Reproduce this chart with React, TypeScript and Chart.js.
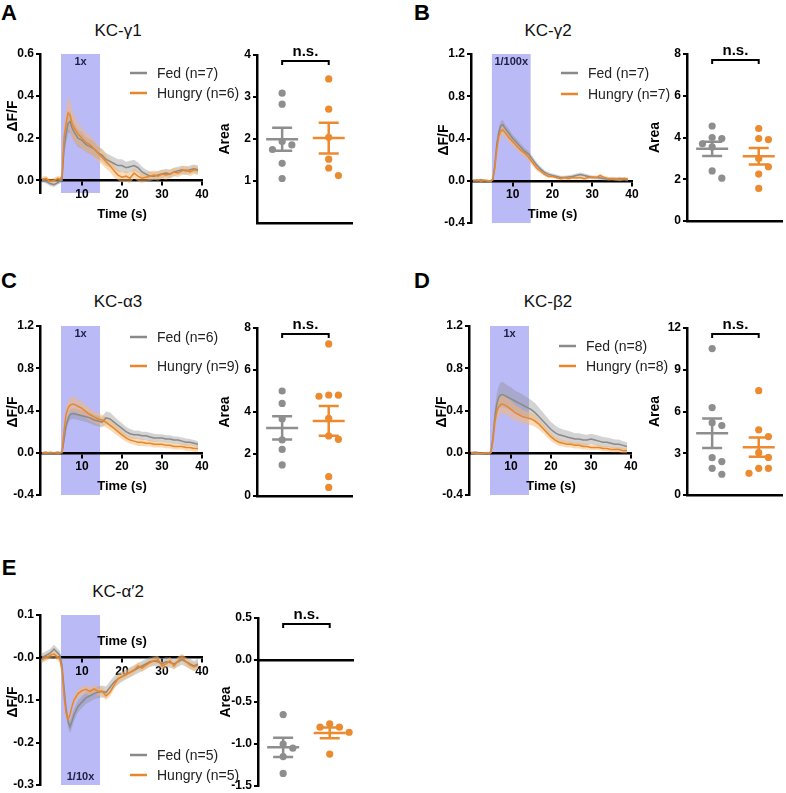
import React, { useEffect, useRef } from 'react';
import { Chart, registerables } from 'chart.js';
Chart.register(...registerables);

const FONT = '"Liberation Sans", Arial, Helvetica, sans-serif';
const GREY = '#8a8a8a';
const ORANGE = '#e8862c';
const GREY_BAND = 'rgba(140,140,140,0.38)';
const ORANGE_BAND = 'rgba(248,184,110,0.5)';
const STIM_FILL = '#babaf6';
const DOT_GREY = '#8e8e8e';
const DOT_ORANGE = '#ec8a30';

// ---------------- time course data ----------------
const TIME = [0, 1, 2, 3, 4, 4.5, 5, 5.5, 6, 6.5, 7, 7.5, 8, 9, 10, 11, 12, 13, 14, 15, 16, 17, 18, 19, 20, 21, 22, 23, 24, 25, 26, 27, 28, 29, 30, 31, 32, 33, 34, 35, 36, 37, 38, 39];
const STIM = [4.75, 14.5];
const X_TICKS = [10, 20, 30, 40];
const X_TICK_LABELS = ['10', '20', '30', '40'];
const SERIES_NAMES = ['Fed', 'Hungry'];

const A_FED = [0, -0.005, -0.015, -0.02, -0.01, -0.005, 0.0, 0.15, 0.22, 0.27, 0.28, 0.25, 0.23, 0.2, 0.19, 0.17, 0.16, 0.15, 0.13, 0.12, 0.1, 0.09, 0.08, 0.07, 0.07, 0.06, 0.065, 0.07, 0.06, 0.04, 0.03, 0.02, 0.02, 0.025, 0.03, 0.035, 0.03, 0.04, 0.045, 0.05, 0.045, 0.05, 0.055, 0.05];
const A_FED_SEM = [0.01, 0.01, 0.012, 0.012, 0.01, 0.01, 0.01, 0.035, 0.045, 0.05, 0.05, 0.045, 0.045, 0.04, 0.04, 0.035, 0.035, 0.035, 0.03, 0.03, 0.03, 0.03, 0.03, 0.03, 0.03, 0.028, 0.028, 0.028, 0.025, 0.025, 0.022, 0.022, 0.02, 0.02, 0.02, 0.02, 0.02, 0.02, 0.02, 0.02, 0.02, 0.02, 0.02, 0.02];
const A_HUN = [0.005, 0.01, -0.005, 0.0, 0.01, 0.005, 0.02, 0.2, 0.27, 0.32, 0.31, 0.27, 0.25, 0.22, 0.2, 0.18, 0.17, 0.15, 0.13, 0.11, 0.09, 0.07, 0.045, 0.025, 0.015, 0.02, 0.01, 0.035, 0.02, 0.01, 0.015, 0.02, 0.025, 0.02, 0.03, 0.025, 0.03, 0.04, 0.035, 0.045, 0.05, 0.04, 0.05, 0.045];
const A_HUN_SEM = [0.012, 0.012, 0.012, 0.012, 0.012, 0.012, 0.015, 0.05, 0.065, 0.075, 0.075, 0.07, 0.065, 0.055, 0.05, 0.045, 0.045, 0.04, 0.04, 0.035, 0.035, 0.03, 0.03, 0.025, 0.025, 0.025, 0.025, 0.025, 0.025, 0.022, 0.022, 0.022, 0.022, 0.022, 0.022, 0.022, 0.02, 0.02, 0.02, 0.02, 0.02, 0.02, 0.02, 0.02];

const B_FED = [0.005, -0.005, 0.01, 0.0, -0.005, 0.0, 0.01, 0.15, 0.35, 0.46, 0.52, 0.53, 0.5, 0.45, 0.4, 0.36, 0.32, 0.28, 0.25, 0.2, 0.15, 0.11, 0.08, 0.06, 0.05, 0.04, 0.03, 0.03, 0.035, 0.04, 0.05, 0.06, 0.05, 0.04, 0.03, 0.03, 0.025, 0.02, 0.015, 0.02, 0.015, 0.02, 0.015, 0.01];
const B_FED_SEM = [0.012, 0.012, 0.012, 0.012, 0.012, 0.012, 0.012, 0.03, 0.04, 0.045, 0.045, 0.045, 0.04, 0.04, 0.035, 0.035, 0.03, 0.03, 0.03, 0.03, 0.025, 0.025, 0.02, 0.02, 0.018, 0.018, 0.018, 0.018, 0.018, 0.018, 0.018, 0.018, 0.018, 0.018, 0.018, 0.018, 0.018, 0.018, 0.018, 0.018, 0.018, 0.018, 0.018, 0.018];
const B_HUN = [0.0, 0.01, -0.005, 0.005, 0.0, -0.005, 0.01, 0.12, 0.3, 0.42, 0.47, 0.48, 0.46, 0.41, 0.37, 0.33, 0.29, 0.26, 0.22, 0.17, 0.12, 0.09, 0.06, 0.04, 0.04, 0.03, 0.02, 0.03, 0.02, 0.03, 0.025, 0.03, 0.02, 0.03, 0.035, 0.03, 0.05, 0.03, 0.02, 0.02, 0.015, 0.01, 0.02, 0.015];
const B_HUN_SEM = [0.01, 0.01, 0.01, 0.01, 0.01, 0.01, 0.01, 0.03, 0.045, 0.05, 0.05, 0.05, 0.048, 0.045, 0.042, 0.04, 0.038, 0.035, 0.033, 0.03, 0.025, 0.02, 0.018, 0.015, 0.015, 0.015, 0.015, 0.015, 0.015, 0.015, 0.015, 0.015, 0.015, 0.015, 0.015, 0.015, 0.015, 0.015, 0.015, 0.015, 0.015, 0.015, 0.015, 0.015];

const C_FED = [0.0, 0.005, -0.005, 0.0, 0.005, 0.0, 0.0, 0.12, 0.25, 0.32, 0.36, 0.37, 0.37, 0.36, 0.35, 0.34, 0.33, 0.31, 0.3, 0.29, 0.33, 0.32, 0.29, 0.26, 0.23, 0.2, 0.18, 0.17, 0.17, 0.16, 0.16, 0.15, 0.14, 0.14, 0.14, 0.13, 0.13, 0.12, 0.12, 0.11, 0.1, 0.1, 0.09, 0.08];
const C_FED_SEM = [0.008, 0.008, 0.008, 0.008, 0.008, 0.008, 0.008, 0.03, 0.04, 0.045, 0.05, 0.05, 0.05, 0.05, 0.05, 0.05, 0.05, 0.05, 0.05, 0.05, 0.06, 0.06, 0.055, 0.05, 0.05, 0.045, 0.045, 0.04, 0.04, 0.04, 0.04, 0.04, 0.04, 0.035, 0.035, 0.035, 0.035, 0.035, 0.035, 0.035, 0.035, 0.03, 0.03, 0.03];
const C_HUN = [0.0, -0.005, 0.005, 0.0, -0.005, 0.0, 0.01, 0.2, 0.36, 0.42, 0.45, 0.46, 0.46, 0.44, 0.42, 0.39, 0.36, 0.34, 0.32, 0.31, 0.29, 0.26, 0.23, 0.2, 0.17, 0.14, 0.12, 0.11, 0.1, 0.1, 0.09, 0.09, 0.08, 0.08, 0.08, 0.07, 0.07, 0.06, 0.06, 0.06, 0.05, 0.05, 0.04, 0.04];
const C_HUN_SEM = [0.008, 0.008, 0.008, 0.008, 0.008, 0.008, 0.008, 0.05, 0.065, 0.07, 0.07, 0.07, 0.07, 0.065, 0.065, 0.06, 0.06, 0.055, 0.055, 0.05, 0.05, 0.045, 0.045, 0.04, 0.04, 0.035, 0.035, 0.035, 0.035, 0.035, 0.03, 0.03, 0.03, 0.03, 0.03, 0.03, 0.03, 0.03, 0.03, 0.03, 0.03, 0.03, 0.03, 0.03];

const D_FED = [0.0, 0.005, 0.0, -0.005, 0.0, 0.0, 0.005, 0.15, 0.35, 0.47, 0.53, 0.55, 0.55, 0.53, 0.51, 0.49, 0.47, 0.45, 0.43, 0.41, 0.38, 0.34, 0.3, 0.26, 0.22, 0.19, 0.17, 0.16, 0.15, 0.14, 0.13, 0.13, 0.12, 0.12, 0.13, 0.12, 0.11, 0.1, 0.1, 0.09, 0.08, 0.08, 0.07, 0.06];
const D_FED_SEM = [0.01, 0.01, 0.01, 0.01, 0.01, 0.01, 0.01, 0.06, 0.09, 0.1, 0.11, 0.12, 0.12, 0.11, 0.11, 0.1, 0.1, 0.1, 0.095, 0.09, 0.09, 0.085, 0.08, 0.075, 0.07, 0.07, 0.065, 0.06, 0.06, 0.06, 0.055, 0.055, 0.055, 0.05, 0.05, 0.05, 0.05, 0.05, 0.045, 0.045, 0.045, 0.045, 0.04, 0.04];
const D_HUN = [0.0, -0.005, -0.01, -0.005, 0.0, -0.005, 0.0, 0.12, 0.3, 0.4, 0.44, 0.46, 0.46, 0.44, 0.41, 0.38, 0.36, 0.34, 0.33, 0.32, 0.3, 0.27, 0.23, 0.19, 0.15, 0.12, 0.1, 0.09, 0.08, 0.08, 0.07, 0.07, 0.06, 0.06, 0.05, 0.05, 0.05, 0.04, 0.04, 0.03, 0.03, 0.03, 0.02, 0.02];
const D_HUN_SEM = [0.01, 0.01, 0.01, 0.01, 0.01, 0.01, 0.01, 0.05, 0.07, 0.08, 0.09, 0.09, 0.09, 0.085, 0.08, 0.075, 0.07, 0.065, 0.06, 0.06, 0.055, 0.05, 0.045, 0.04, 0.04, 0.035, 0.035, 0.03, 0.03, 0.03, 0.03, 0.03, 0.03, 0.03, 0.025, 0.025, 0.025, 0.025, 0.025, 0.025, 0.025, 0.025, 0.025, 0.025];

const E_FED = [0.0, 0.005, 0.01, 0.02, 0.01, 0.005, -0.02, -0.07, -0.12, -0.15, -0.163, -0.15, -0.135, -0.115, -0.105, -0.095, -0.09, -0.085, -0.082, -0.08, -0.082, -0.07, -0.058, -0.05, -0.045, -0.04, -0.035, -0.03, -0.025, -0.02, -0.015, -0.01, -0.008, -0.01, -0.015, -0.01, -0.012, -0.015, -0.01, -0.005, -0.01, -0.015, -0.02, -0.015];
const E_FED_SEM = [0.01, 0.01, 0.01, 0.01, 0.01, 0.01, 0.01, 0.012, 0.014, 0.015, 0.015, 0.015, 0.014, 0.014, 0.014, 0.014, 0.014, 0.014, 0.014, 0.014, 0.014, 0.014, 0.014, 0.014, 0.012, 0.012, 0.012, 0.012, 0.012, 0.012, 0.012, 0.012, 0.012, 0.012, 0.012, 0.012, 0.012, 0.012, 0.012, 0.012, 0.012, 0.012, 0.012, 0.012];
const E_HUN = [-0.005, 0.0, 0.005, 0.008, 0.0, -0.005, -0.03, -0.09, -0.13, -0.145, -0.135, -0.115, -0.1, -0.085, -0.078, -0.075, -0.08, -0.074, -0.08, -0.079, -0.09, -0.082, -0.065, -0.05, -0.045, -0.04, -0.035, -0.03, -0.02, -0.025, -0.018, -0.012, -0.008, -0.005, -0.02, -0.015, -0.008, -0.02, -0.008, 0.0, -0.01, -0.018, -0.022, -0.018];
const E_HUN_SEM = [0.008, 0.008, 0.008, 0.008, 0.008, 0.008, 0.008, 0.01, 0.01, 0.01, 0.01, 0.01, 0.01, 0.01, 0.01, 0.01, 0.01, 0.01, 0.01, 0.01, 0.01, 0.01, 0.01, 0.01, 0.009, 0.009, 0.009, 0.009, 0.009, 0.009, 0.009, 0.009, 0.009, 0.009, 0.009, 0.009, 0.009, 0.009, 0.009, 0.009, 0.009, 0.009, 0.009, 0.009];

const A_Y_TICKS = [0, 0.2, 0.4, 0.6];
const A_Y_LABELS = ['0.0', '0.2', '0.4', '0.6'];
const BCD_Y_TICKS = [-0.4, 0, 0.4, 0.8, 1.2];
const BCD_Y_LABELS = ['-0.4', '0.0', '0.4', '0.8', '1.2'];
const E_Y_TICKS = [-0.3, -0.2, -0.1, 0, 0.1];
const E_Y_LABELS = ['-0.3', '-0.2', '-0.1', '-0.0', '0.1'];

// ---------------- area data ----------------
const A_AREA_FED = [3.09, 2.83, 1.94, 1.86, 1.75, 1.42, 1.06];
const A_AREA_HUN = [3.43, 2.71, 2.04, 1.52, 1.31, 1.13];
const B_AREA_FED = [4.55, 4.0, 3.95, 3.7, 3.55, 2.4, 2.05];
const B_AREA_HUN = [4.43, 3.95, 3.9, 3.0, 2.6, 2.25, 1.56];
const C_AREA_FED = [5.0, 4.41, 3.67, 2.67, 2.22, 1.48];
const C_AREA_HUN = [7.24, 4.81, 4.75, 4.8, 3.7, 2.86, 2.7, 0.92, 0.41];
const D_AREA_FED = [10.52, 6.28, 5.2, 4.99, 2.68, 2.4, 1.92, 1.49];
const D_AREA_HUN = [7.5, 4.68, 4.2, 3.04, 2.7, 1.92, 1.92, 1.56];
const E_AREA_FED = [-0.65, -1.0, -1.05, -1.15, -1.35];
const E_AREA_HUN = [-0.76, -0.8, -0.8, -0.86, -1.12];

const A_AREA_TICKS = [1, 2, 3, 4];
const A_AREA_LABELS = ['1', '2', '3', '4'];
const BC_AREA_TICKS = [0, 2, 4, 6, 8];
const BC_AREA_LABELS = ['0', '2', '4', '6', '8'];
const D_AREA_TICKS = [0, 3, 6, 9, 12];
const D_AREA_LABELS = ['0', '3', '6', '9', '12'];
const E_AREA_TICKS = [-1.5, -1.0, -0.5, 0, 0.5];
const E_AREA_LABELS = ['-1.5', '-1.0', '-0.5', '0.0', '0.5'];

const LETTERS = ['A', 'B', 'C', 'D', 'E'];
const TITLES = ['KC-γ1', 'KC-γ2', 'KC-α3', 'KC-β2', 'KC-α′2'];

// ---------------- helpers ----------------
const mean = (v: number[]) => v.reduce((a, b) => a + b, 0) / v.length;
const sem = (v: number[]) => {
  const m = mean(v);
  const sd = Math.sqrt(v.reduce((a, b) => a + (b - m) * (b - m), 0) / (v.length - 1));
  return sd / Math.sqrt(v.length);
};

function swarm(values: number[], center: number, pyu: number, pxu: number) {
  const placed: { dx: number; py: number; v: number }[] = [];
  const order = values.slice().sort((a, b) => b - a);
  for (const v of order) {
    const py = v * pyu;
    for (const k of [0, 1, -1, 2, -2, 3, -3]) {
      const dx = k * 10;
      if (placed.every((p) => Math.hypot(p.dx - dx, p.py - py) >= 8.5)) {
        placed.push({ dx, py, v });
        break;
      }
    }
  }
  return placed.map((p) => ({ x: center + p.dx / pxu, y: p.v }));
}

const tickFont = { family: FONT, size: 12, weight: 'bold' as const };

type Area = { left: number; top: number; right: number; bottom: number };
type LineSpec = {
  area: Area; xMin: number; xMax: number; yMin: number; yMax: number;
  yTicks: number[]; yLabels: string[];
  fed: number[]; fedSem: number[]; hun: number[]; hunSem: number[];
  n: number[]; legendY: number[]; stimLabel: string; stimBottom: boolean;
  timeAbove: boolean; yTitleY: number;
};

function LinePanel({ s }: { s: LineSpec }) {
  const ref = useRef<HTMLCanvasElement>(null);
  const PL = 40, PT = 20, PR = 60, PB = 36;
  const w = s.area.right - s.area.left + PL + PR;
  const h = s.area.bottom - s.area.top + PT + PB;
  useEffect(() => {
    const xy = (ys: number[]) => TIME.map((t, i) => ({ x: t, y: ys[i] }));
    const band = (m: number[], e: number[], sg: number) => TIME.map((t, i) => ({ x: t, y: m[i] + sg * e[i] }));
    const labels = [`${SERIES_NAMES[0]} (n=${s.n[0]})`, `${SERIES_NAMES[1]} (n=${s.n[1]})`];
    const decor = {
      id: 'decor',
      beforeDraw(chart: any) {
        const { ctx, chartArea: a, scales: { x } } = chart;
        const x0 = x.getPixelForValue(STIM[0]);
        const x1 = x.getPixelForValue(STIM[1]);
        ctx.save();
        ctx.fillStyle = STIM_FILL;
        ctx.fillRect(x0, a.top, x1 - x0, a.bottom - a.top);
        ctx.restore();
      },
      afterDraw(chart: any) {
        const { ctx, chartArea: a, scales: { x, y } } = chart;
        ctx.save();
        ctx.textAlign = 'center';
        ctx.textBaseline = 'middle';
        const xm = (x.getPixelForValue(STIM[0]) + x.getPixelForValue(STIM[1])) / 2;
        ctx.fillStyle = '#1e1e40';
        ctx.font = `bold 11px ${FONT}`;
        ctx.fillText(s.stimLabel, xm, s.stimBottom ? a.bottom - 8 : a.top + 8);
        const y0 = y.getPixelForValue(0);
        ctx.fillStyle = '#000';
        ctx.font = `bold 13px ${FONT}`;
        ctx.fillText('Time (s)', x.getPixelForValue(20), s.timeAbove ? y0 - 16 : y0 + 34);
        ctx.save();
        ctx.translate(a.left - 27, s.yTitleY - s.area.top + a.top);
        ctx.rotate(-Math.PI / 2);
        ctx.font = `bold 14px ${FONT}`;
        ctx.fillText('ΔF/F', 0, 0);
        ctx.restore();
        const colors = [GREY, ORANGE];
        ctx.textAlign = 'left';
        ctx.font = `14px ${FONT}`;
        for (let i = 0; i < 2; i++) {
          const ly = a.top + s.legendY[i];
          const lx = a.left + 90;
          ctx.strokeStyle = colors[i];
          ctx.lineWidth = 2.5;
          ctx.beginPath();
          ctx.moveTo(lx, ly);
          ctx.lineTo(lx + 17, ly);
          ctx.stroke();
          ctx.fillStyle = '#222';
          ctx.fillText(labels[i], lx + 27, ly + 1);
        }
        ctx.restore();
      },
    };
    const line = (data: any, color: string, order: number) => ({
      data, borderColor: color, borderWidth: 1.5, pointRadius: 0, fill: false, order, tension: 0,
    });
    const up = (data: any, bg: string, order: number) => ({
      data, borderColor: 'transparent', borderWidth: 0, pointRadius: 0, fill: '+1', backgroundColor: bg, order,
    });
    const lo = (data: any, order: number) => ({
      data, borderColor: 'transparent', borderWidth: 0, pointRadius: 0, fill: false, order,
    });
    const chart = new Chart(ref.current as HTMLCanvasElement, {
      type: 'line',
      data: {
        datasets: [
          line(xy(s.hun), ORANGE, 0),
          line(xy(s.fed), GREY, 1),
          up(band(s.hun, s.hunSem, 1), ORANGE_BAND, 2),
          lo(band(s.hun, s.hunSem, -1), 2),
          up(band(s.fed, s.fedSem, 1), GREY_BAND, 3),
          lo(band(s.fed, s.fedSem, -1), 3),
        ] as any,
      },
      options: {
        responsive: false,
        animation: false,
        layout: { padding: { left: 0, top: PT, right: PR, bottom: PB } },
        plugins: { legend: { display: false }, tooltip: { enabled: false } },
        scales: {
          x: {
            type: 'linear', min: s.xMin, max: s.xMax, position: { y: 0 } as any,
            afterBuildTicks: (sc: any) => { sc.ticks = X_TICKS.map((v) => ({ value: v })); },
            ticks: { font: tickFont, color: '#000', padding: 3, maxRotation: 0, autoSkip: false, callback: (_v: any, i: number) => X_TICK_LABELS[i] },
            grid: { display: true, drawOnChartArea: false, drawTicks: true, tickLength: 4, color: '#000', lineWidth: 2 },
            border: { display: true, color: '#000', width: 2.5 },
          },
          y: {
            type: 'linear', min: s.yMin, max: s.yMax, position: 'left',
            afterBuildTicks: (sc: any) => { sc.ticks = s.yTicks.map((v) => ({ value: v })); },
            afterFit: (sc: any) => { sc.width = PL; },
            ticks: { font: tickFont, color: '#000', padding: 2, autoSkip: false, callback: (_v: any, i: number) => s.yLabels[i] },
            grid: { display: true, drawOnChartArea: false, drawTicks: true, tickLength: 4, color: '#000', lineWidth: 2 },
            border: { display: true, color: '#000', width: 2.5 },
          },
        },
      } as any,
      plugins: [decor],
    });
    return () => chart.destroy();
  }, []);
  return (
    <canvas ref={ref} width={w} height={h}
      style={{ position: 'absolute', left: s.area.left - PL, top: s.area.top - PT, width: w, height: h, display: 'block' }} />
  );
}

type ScatterSpec = {
  area: { left: number; top: number; bottom: number };
  yMin: number; yMax: number; yTicks: number[]; yLabels: string[];
  fed: number[]; hun: number[]; zeroAxis: boolean;
};

const SX_MIN = 0.46, SX_MAX = 2.5, SW = 98;

function ScatterPanel({ s }: { s: ScatterSpec }) {
  const ref = useRef<HTMLCanvasElement>(null);
  const PL = 45, PT = 32, PR = 1, PB = 12;
  const w = PL + SW + PR;
  const h = s.area.bottom - s.area.top + PT + PB;
  useEffect(() => {
    const pyu = (s.area.bottom - s.area.top) / (s.yMax - s.yMin);
    const pxu = SW / (SX_MAX - SX_MIN);
    const groups = [s.fed, s.hun];
    const colors = [DOT_GREY, DOT_ORANGE];
    const decor = {
      id: 'stats',
      afterDatasetsDraw(chart: any) {
        const { ctx, scales: { x, y } } = chart;
        ctx.save();
        groups.forEach((vals, gi) => {
          const cx = x.getPixelForValue(gi + 1);
          const m = mean(vals), e = sem(vals);
          const ym = y.getPixelForValue(m), yt = y.getPixelForValue(m + e), yb = y.getPixelForValue(m - e);
          ctx.strokeStyle = colors[gi];
          ctx.lineWidth = 2.5;
          ctx.beginPath();
          ctx.moveTo(cx - 16, ym); ctx.lineTo(cx + 16, ym);
          ctx.moveTo(cx, yt); ctx.lineTo(cx, yb);
          ctx.moveTo(cx - 10, yt); ctx.lineTo(cx + 10, yt);
          ctx.moveTo(cx - 10, yb); ctx.lineTo(cx + 10, yb);
          ctx.stroke();
        });
        ctx.restore();
      },
      afterDraw(chart: any) {
        const { ctx, chartArea: a, scales: { x } } = chart;
        const x1 = x.getPixelForValue(1), x2 = x.getPixelForValue(2);
        ctx.save();
        ctx.strokeStyle = '#000';
        ctx.lineWidth = 2;
        ctx.beginPath();
        ctx.moveTo(x1, a.top + 10); ctx.lineTo(x1, a.top + 6); ctx.lineTo(x2, a.top + 6); ctx.lineTo(x2, a.top + 10);
        ctx.stroke();
        ctx.fillStyle = '#000';
        ctx.textAlign = 'center';
        ctx.textBaseline = 'middle';
        ctx.font = `bold 15px ${FONT}`;
        ctx.fillText('n.s.', (x1 + x2) / 2, a.top - 3);
        ctx.save();
        ctx.translate(a.left - 32, (a.top + a.bottom) / 2);
        ctx.rotate(-Math.PI / 2);
        ctx.font = `bold 14px ${FONT}`;
        ctx.fillText('Area', 0, 0);
        ctx.restore();
        ctx.restore();
      },
    };
    const chart = new Chart(ref.current as HTMLCanvasElement, {
      type: 'scatter',
      data: {
        datasets: groups.map((vals, gi) => ({
          data: swarm(vals, gi + 1, pyu, pxu),
          backgroundColor: colors[gi],
          borderWidth: 0,
          pointRadius: 3.6,
        })),
      },
      options: {
        responsive: false,
        animation: false,
        layout: { padding: { left: 0, top: PT, right: PR, bottom: PB } },
        plugins: { legend: { display: false }, tooltip: { enabled: false } },
        scales: {
          x: {
            type: 'linear', min: SX_MIN, max: SX_MAX,
            position: s.zeroAxis ? ({ y: 0 } as any) : 'bottom',
            afterFit: (sc: any) => { sc.height = 0; },
            ticks: { display: false },
            grid: { display: false },
            border: { display: true, color: '#000', width: 2.5 },
          },
          y: {
            type: 'linear', min: s.yMin, max: s.yMax, position: 'left',
            afterBuildTicks: (sc: any) => { sc.ticks = s.yTicks.map((v) => ({ value: v })); },
            afterFit: (sc: any) => { sc.width = PL; },
            ticks: { font: tickFont, color: '#000', padding: 2, autoSkip: false, callback: (_v: any, i: number) => s.yLabels[i] },
            grid: { display: true, drawOnChartArea: false, drawTicks: true, tickLength: 4, color: '#000', lineWidth: 2 },
            border: { display: true, color: '#000', width: 2.5 },
          },
        },
      } as any,
      plugins: [decor],
    });
    return () => chart.destroy();
  }, []);
  return (
    <canvas ref={ref} width={w} height={h}
      style={{ position: 'absolute', left: s.area.left - PL, top: s.area.top - PT, width: w, height: h, display: 'block' }} />
  );
}

const LINE_SPECS: LineSpec[] = [
  { area: { left: 40, top: 54, right: 202, bottom: 193 }, xMin: -0.5, xMax: 40, yMin: -0.06, yMax: 0.6, yTicks: A_Y_TICKS, yLabels: A_Y_LABELS,
    fed: A_FED, fedSem: A_FED_SEM, hun: A_HUN, hunSem: A_HUN_SEM, n: [A_AREA_FED.length, A_AREA_HUN.length], legendY: [19, 39], stimLabel: '1x', stimBottom: false, timeAbove: false, yTitleY: 116 },
  { area: { left: 471, top: 54, right: 632, bottom: 223 }, xMin: -0.5, xMax: 40, yMin: -0.4, yMax: 1.2, yTicks: BCD_Y_TICKS, yLabels: BCD_Y_LABELS,
    fed: B_FED, fedSem: B_FED_SEM, hun: B_HUN, hunSem: B_HUN_SEM, n: [B_AREA_FED.length, B_AREA_HUN.length], legendY: [19, 40], stimLabel: '1/100x', stimBottom: false, timeAbove: false, yTitleY: 140 },
  { area: { left: 40, top: 326, right: 202, bottom: 495 }, xMin: -0.5, xMax: 40, yMin: -0.4, yMax: 1.2, yTicks: BCD_Y_TICKS, yLabels: BCD_Y_LABELS,
    fed: C_FED, fedSem: C_FED_SEM, hun: C_HUN, hunSem: C_HUN_SEM, n: [C_AREA_FED.length, C_AREA_HUN.length], legendY: [11, 40], stimLabel: '1x', stimBottom: false, timeAbove: false, yTitleY: 412 },
  { area: { left: 469, top: 326, right: 631, bottom: 495 }, xMin: -0.5, xMax: 40, yMin: -0.4, yMax: 1.2, yTicks: BCD_Y_TICKS, yLabels: BCD_Y_LABELS,
    fed: D_FED, fedSem: D_FED_SEM, hun: D_HUN, hunSem: D_HUN_SEM, n: [D_AREA_FED.length, D_AREA_HUN.length], legendY: [20, 40], stimLabel: '1x', stimBottom: false, timeAbove: false, yTitleY: 412 },
  { area: { left: 40, top: 615, right: 202, bottom: 785 }, xMin: -0.5, xMax: 40, yMin: -0.3, yMax: 0.1, yTicks: E_Y_TICKS, yLabels: E_Y_LABELS,
    fed: E_FED, fedSem: E_FED_SEM, hun: E_HUN, hunSem: E_HUN_SEM, n: [E_AREA_FED.length, E_AREA_HUN.length], legendY: [140, 160], stimLabel: '1/10x', stimBottom: true, timeAbove: true, yTitleY: 702 },
];

const SCATTER_SPECS: ScatterSpec[] = [
  { area: { left: 257, top: 55, bottom: 223 }, yMin: 0, yMax: 4, yTicks: A_AREA_TICKS, yLabels: A_AREA_LABELS, fed: A_AREA_FED, hun: A_AREA_HUN, zeroAxis: false },
  { area: { left: 687, top: 54, bottom: 221 }, yMin: 0, yMax: 8, yTicks: BC_AREA_TICKS, yLabels: BC_AREA_LABELS, fed: B_AREA_FED, hun: B_AREA_HUN, zeroAxis: false },
  { area: { left: 257, top: 328, bottom: 496 }, yMin: 0, yMax: 8, yTicks: BC_AREA_TICKS, yLabels: BC_AREA_LABELS, fed: C_AREA_FED, hun: C_AREA_HUN, zeroAxis: false },
  { area: { left: 687, top: 328, bottom: 495 }, yMin: 0, yMax: 12, yTicks: D_AREA_TICKS, yLabels: D_AREA_LABELS, fed: D_AREA_FED, hun: D_AREA_HUN, zeroAxis: false },
  { area: { left: 258, top: 618, bottom: 786 }, yMin: -1.5, yMax: 0.5, yTicks: E_AREA_TICKS, yLabels: E_AREA_LABELS, fed: E_AREA_FED, hun: E_AREA_HUN, zeroAxis: true },
];

const LETTER_POS = [[9, 13], [422, 13], [9, 281], [422, 281], [9, 568]];
const TITLE_POS = [[118, 30], [548, 30], [118, 301], [548, 301], [118, 591]];

export default function App() {
  return (
    <div style={{ position: 'absolute', left: 0, top: 0, width: 786, height: 793, background: '#fff', overflow: 'hidden', fontFamily: FONT }}>
      {LETTERS.map((l, i) => (
        <div key={'l' + i} style={{ position: 'absolute', left: LETTER_POS[i][0], top: LETTER_POS[i][1], transform: 'translate(-50%,-50%)', font: `bold 22px ${FONT}`, lineHeight: '22px', whiteSpace: 'nowrap', color: '#000' }}>{l}</div>
      ))}
      {TITLES.map((t, i) => (
        <div key={'t' + i} style={{ position: 'absolute', left: TITLE_POS[i][0], top: TITLE_POS[i][1], transform: 'translate(-50%,-50%)', font: `17px ${FONT}`, lineHeight: '17px', whiteSpace: 'nowrap', color: '#111' }}>{t}</div>
      ))}
      {LINE_SPECS.map((s, i) => <LinePanel key={'lp' + i} s={s} />)}
      {SCATTER_SPECS.map((s, i) => <ScatterPanel key={'sp' + i} s={s} />)}
    </div>
  );
}
